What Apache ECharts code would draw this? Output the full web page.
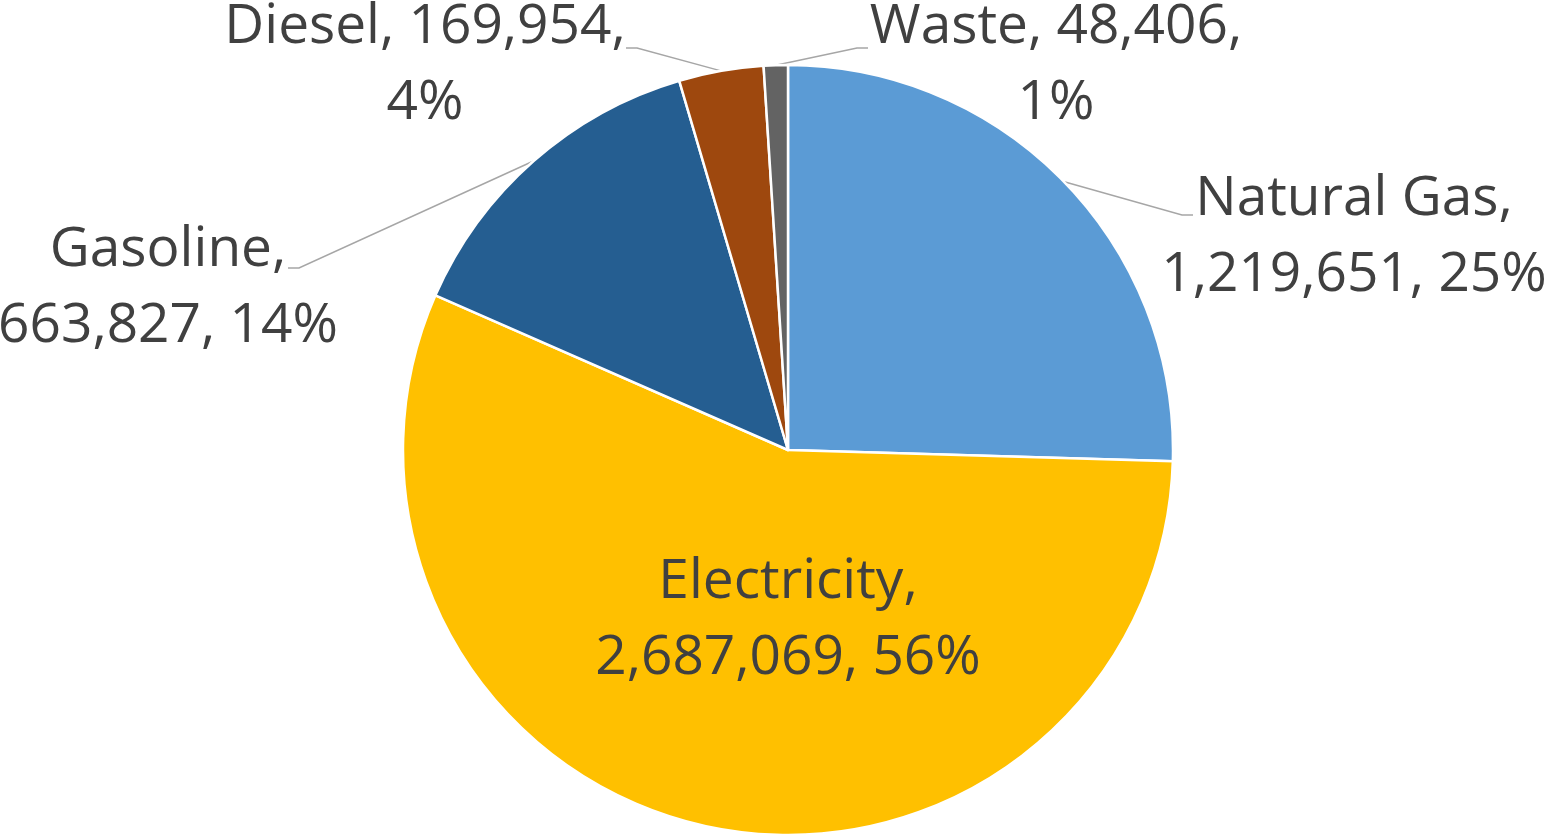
<!DOCTYPE html>
<html>
<head>
<meta charset="utf-8">
<script src="https://cdn.jsdelivr.net/npm/echarts@6/dist/echarts.min.js"></script>
<style>
  html, body { margin: 0; padding: 0; background: #ffffff; }
  #chart { width: 1550px; height: 835px; }
</style>
</head>
<body>
<div id="chart"></div>
<script>
// Energy use by source
const categories = ['Natural Gas', 'Electricity', 'Gasoline', 'Diesel', 'Waste'];
const values = [1219651, 2687069, 663827, 169954, 48406];
const sliceColors = ['#5B9BD5', '#FFC000', '#255E91', '#9E480E', '#636363'];

// Where each label block sits (centre) and where its leader line ends
const labelSpots = [
  { x: 1354, y: 237, guide: [1193, 215] },
  { x: 788,  y: 620, guide: null },
  { x: 168,  y: 288, guide: [288, 268] },
  { x: 425,  y: 65,  guide: [626, 48] },
  { x: 1056, y: 65,  guide: [868, 48] }
];

const numberFmt = new Intl.NumberFormat('en-US');

function labelText(p) {
  const pct = Math.round(p.percent) + '%';
  const val = numberFmt.format(p.value);
  // narrow slices wrap after the value, wide ones after the name
  if (p.percent < 5) {
    return p.name + ', ' + val + ',\n' + pct;
  }
  return p.name + ',\n' + val + ', ' + pct;
}

const chart = echarts.init(document.getElementById('chart'), null, { renderer: 'canvas' });

chart.setOption({
  backgroundColor: '#ffffff',
  animation: false,
  series: [{
    type: 'pie',
    center: [788, 450],
    radius: 385,
    startAngle: 90,
    clockwise: true,
    avoidLabelOverlap: false,
    silent: true,
    itemStyle: { borderColor: '#ffffff', borderWidth: 2.5 },
    label: {
      show: true,
      position: 'outside',
      formatter: labelText,
      fontFamily: '"Open Sans", "DejaVu Sans", sans-serif',
      fontSize: 55,
      lineHeight: 76,
      color: '#404040'
    },
    labelLine: {
      show: true,
      length: 20,
      length2: 10,
      lineStyle: { color: '#A6A6A6', width: 1.5 }
    },
    labelLayout: function (p) {
      const spot = labelSpots[p.dataIndex];
      const out = { x: spot.x, y: spot.y, align: 'center', verticalAlign: 'middle' };
      if (spot.guide && p.labelLinePoints && p.labelLinePoints.length) {
        const start = p.labelLinePoints[0];
        const end = spot.guide;
        const bend = [end[0] + (end[0] > start[0] ? -11 : 11), end[1]];
        out.labelLinePoints = [start, bend, end];
      }
      return out;
    },
    data: categories.map(function (name, i) {
      const item = { name: name, value: values[i], itemStyle: { color: sliceColors[i] } };
      if (labelSpots[i].guide === null) {
        item.label = { position: 'inside' };
        item.labelLine = { show: false };
      }
      return item;
    })
  }]
});
</script>
</body>
</html>
